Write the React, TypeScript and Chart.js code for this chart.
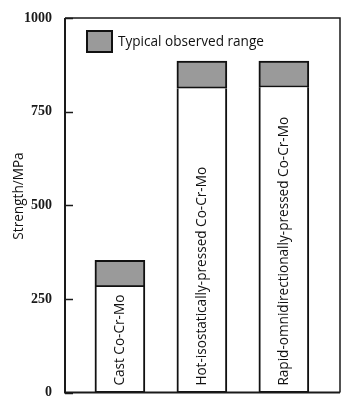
import React, { useEffect, useRef } from "react";
import { Chart, registerables } from "chart.js";

Chart.register(...registerables);

const categories = ["Cast Co-Cr-Mo", "Hot-isostatically-pressed Co-Cr-Mo", "Rapid-omnidirectionally-pressed Co-Cr-Mo"];
const positions = [1, 2, 3];
const baseStrength = [282, 812, 815];
const rangeTop = [353, 885, 885];
const yTicks = [0, 250, 500, 750, 1000];
const yTickLabels = ["0", "250", "500", "750", "1000"];
const yTitle = "Strength/MPa";
const legendLabel = "Typical observed range";

const SANS = "'Open Sans', 'DejaVu Sans', sans-serif";
const SERIF = "'Liberation Serif', 'DejaVu Serif', serif";

const decorPlugin = {
  id: "decor",
  afterDatasetsDraw(chart: any) {
    const { ctx, chartArea } = chart;
    const { left, right, top, bottom } = chartArea;
    const yScale = chart.scales.y;
    ctx.save();
    ctx.strokeStyle = "#1a1a1a";
    // frame
    ctx.lineWidth = 1.5;
    ctx.beginPath();
    ctx.moveTo(left, top);
    ctx.lineTo(right, top);
    ctx.lineTo(right, bottom);
    ctx.stroke();
    ctx.lineWidth = 2;
    ctx.beginPath();
    ctx.moveTo(left, top);
    ctx.lineTo(left, bottom);
    ctx.lineTo(right, bottom);
    ctx.stroke();
    // inward ticks
    ctx.lineWidth = 1.5;
    yTicks.forEach((v) => {
      const py = Math.round(yScale.getPixelForValue(v)) + 0.5;
      ctx.beginPath();
      ctx.moveTo(left, py);
      ctx.lineTo(left + 8, py);
      ctx.stroke();
    });
    // bar labels
    const meta = chart.getDatasetMeta(0);
    ctx.fillStyle = "#111";
    ctx.font = `13.6px ${SANS}`;
    ctx.textAlign = "left";
    ctx.textBaseline = "middle";
    meta.data.forEach((bar: any, i: number) => {
      ctx.save();
      ctx.translate(bar.x, bottom - 7);
      ctx.rotate(-Math.PI / 2);
      ctx.fillText(categories[i], 0, 0);
      ctx.restore();
    });
    // legend
    const bx = left + 22;
    const by = top + 13;
    ctx.fillStyle = "#9a9a9a";
    ctx.fillRect(bx, by, 25, 21);
    ctx.lineWidth = 2;
    ctx.strokeStyle = "#111";
    ctx.strokeRect(bx, by, 25, 21);
    ctx.fillStyle = "#111";
    ctx.font = `13.6px ${SANS}`;
    ctx.textAlign = "left";
    ctx.textBaseline = "middle";
    ctx.fillText(legendLabel, bx + 31, by + 11);
    // y title
    ctx.save();
    ctx.translate(19, 196);
    ctx.rotate(-Math.PI / 2);
    ctx.textAlign = "center";
    ctx.textBaseline = "middle";
    ctx.font = `13.6px ${SANS}`;
    ctx.fillText(yTitle, 0, 0);
    ctx.restore();
    ctx.restore();
  },
};

export default function App() {
  const ref = useRef<HTMLCanvasElement | null>(null);
  useEffect(() => {
    document.body.style.margin = "0";
    const chart = new Chart(ref.current as HTMLCanvasElement, {
      type: "bar",
      data: {
        datasets: [
          {
            label: "Base",
            data: positions.map((x, i) => ({ x, y: baseStrength[i] })),
            backgroundColor: "#ffffff",
            borderColor: "#111",
            borderWidth: 2,
            borderSkipped: "end",
            barThickness: 50,
            grouped: false,
          } as any,
          {
            label: legendLabel,
            data: positions.map((x, i) => ({ x, y: [baseStrength[i], rangeTop[i]] })),
            backgroundColor: "#9a9a9a",
            borderColor: "#111",
            borderWidth: 2,
            borderSkipped: false,
            barThickness: 50,
            grouped: false,
          } as any,
        ],
      },
      options: {
        animation: false,
        responsive: true,
        maintainAspectRatio: false,
        layout: { padding: { top: 18, right: 19, bottom: 12, left: 0 } },
        plugins: { legend: { display: false }, tooltip: { enabled: false } },
        scales: {
          x: {
            type: "linear",
            min: 0.33,
            max: 3.685,
            offset: false,
            display: false,
          },
          y: {
            min: 0,
            max: 1000,
            afterFit: (scale: any) => {
              scale.width = 65;
            },
            afterBuildTicks: (scale: any) => {
              scale.ticks = yTicks.map((v) => ({ value: v }));
            },
            grid: { display: false },
            border: { display: false },
            ticks: {
              padding: 5,
              color: "#1a1a1a",
              font: { family: SERIF, size: 14, weight: "bold" },
              callback: (v: any) => {
                const i = yTicks.indexOf(Number(v));
                return i >= 0 ? yTickLabels[i] : "";
              },
            },
          },
        },
      },
      plugins: [decorPlugin],
    } as any);
    return () => chart.destroy();
  }, []);
  return (
    <div style={{ position: "absolute", left: 0, top: 0, width: 359, height: 406, background: "#fff" }}>
      <canvas ref={ref} />
    </div>
  );
}
